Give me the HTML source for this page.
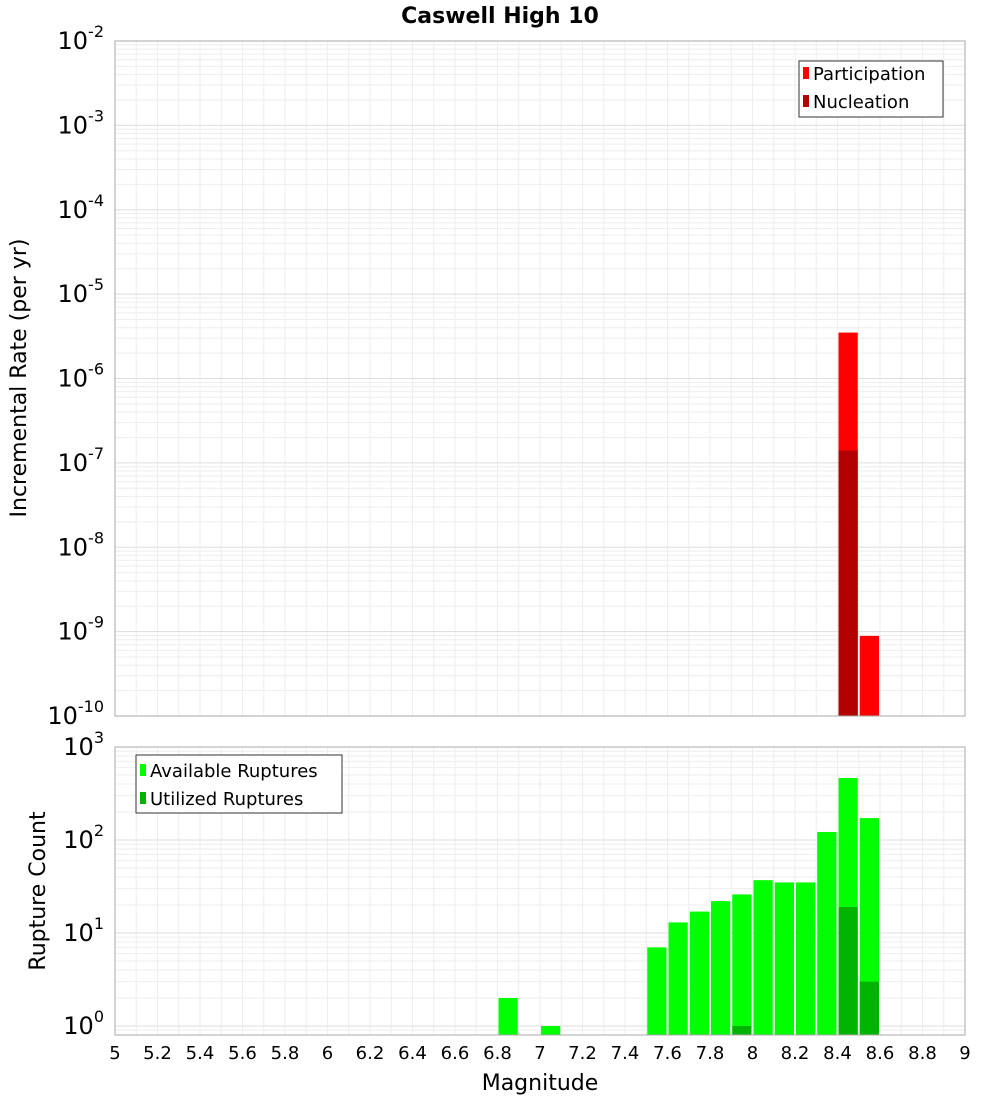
<!DOCTYPE html>
<html><head><meta charset="utf-8"><style>
html,body{margin:0;padding:0;background:#fff}
svg{display:block;font-family:"DejaVu Sans","Liberation Sans",sans-serif}
</style></head><body>
<svg id="chart" width="1000" height="1100" xmlns="http://www.w3.org/2000/svg">
<text x="500" y="23" text-anchor="middle" font-size="22" font-weight="bold">Caswell High 10</text>
<g id="topPlot"></g>
<g id="botPlot"></g>
<text transform="translate(26,378) rotate(-90)" text-anchor="middle" font-size="22">Incremental Rate (per yr)</text>
<text transform="translate(45,891) rotate(-90)" text-anchor="middle" font-size="22">Rupture Count</text>
<text x="540" y="1090" text-anchor="middle" font-size="22">Magnitude</text>
<g id="legends"></g>
</svg>
<script>
const binCenters=[8.45,8.55];
const participation=[3.5e-6,8.9e-10];
const nucleation=[1.4e-7,0];
const countBins=[6.85,7.05,7.55,7.65,7.75,7.85,7.95,8.05,8.15,8.25,8.35,8.45,8.55];
const available=[2,1,7,13,17,22,26,37,35,35,122,464,172];
const utilized=[0,0,0,0,0,0,1,0,0,0,0,19,3];
const xTicks=[5,5.2,5.4,5.6,5.8,6,6.2,6.4,6.6,6.8,7,7.2,7.4,7.6,7.8,8,8.2,8.4,8.6,8.8,9];
const topExps=[-2,-3,-4,-5,-6,-7,-8,-9,-10];
const botExps=[3,2,1,0];

const NS="http://www.w3.org/2000/svg";
const X0=115,X1=965;
const xs=m=>X0+(m-5)/4*(X1-X0);
const T0=41,T1=716;
const yT=v=>T0+(-2-Math.log10(v))/8*(T1-T0);
const B0=747,BD=93,B1=1035;
const yB=v=>B0+(3-Math.log10(v))*BD;
function el(p,t,a){const e=document.createElementNS(NS,t);for(const k in a)e.setAttribute(k,a[k]);p.appendChild(e);return e;}
const gTop=document.getElementById('topPlot'),gBot=document.getElementById('botPlot');

function grid(g,y0,y1,yf,exps){
  for(let i=0;i<=40;i++){const m=5+i*0.1;const l=el(g,'line',{x1:xs(m),x2:xs(m),y1:y0,y2:y1,stroke:'#eee'});
    }
  for(const e of exps){for(let k=1;k<10;k++){const yy=yf(k*Math.pow(10,e));if(yy<y0-0.5||yy>y1+0.5)continue;
    const l=el(g,'line',{x1:X0,x2:X1,y1:yy,y2:yy,stroke:k==1?'#ddd':'#eee'});
    }}
}
el(gTop,'rect',{x:X0,y:T0,width:X1-X0,height:T1-T0,fill:'#fff'});
el(gBot,'rect',{x:X0,y:B0,width:X1-X0,height:B1-B0,fill:'#fff'});
grid(gTop,T0,T1,yT,topExps.concat([-11]));
grid(gBot,B0,B1,yB,botExps.concat([-1]));

function bar(g,c,v,yf,yb,fill,name){if(!(v>0))return;const yy=yf(v);
  const r=el(g,'rect',{x:xs(c-0.05)+1,y:yy,width:xs(c+0.05)-xs(c-0.05)-2,height:yb-yy,fill:fill});
  }
binCenters.forEach((c,i)=>bar(gTop,c,participation[i],yT,T1,'#ff0000','participation-bar'));
binCenters.forEach((c,i)=>bar(gTop,c,nucleation[i],yT,T1,'#b30000','nucleation-bar'));
countBins.forEach((c,i)=>bar(gBot,c,available[i],yB,B1,'#00ff00','available-bar'));
countBins.forEach((c,i)=>bar(gBot,c,utilized[i],yB,B1,'#00b300','utilized-bar'));

el(gTop,'rect',{x:X0,y:T0,width:X1-X0,height:T1-T0,fill:'none',stroke:'#aaa'});
el(gBot,'rect',{x:X0,y:B0,width:X1-X0,height:B1-B0,fill:'none',stroke:'#aaa'});

function ylab(g,e,yy){const t=el(g,'text',{x:104,y:yy+8,'text-anchor':'end','font-size':24});
  
  t.appendChild(document.createTextNode('10'));const s=el(t,'tspan',{dy:-12,'font-size':16});s.textContent=String(e);
  }
topExps.forEach(e=>ylab(gTop,e,yT(Math.pow(10,e))));
botExps.forEach(e=>ylab(gBot,e,Math.min(yB(Math.pow(10,e)),B1-6)));
xTicks.forEach(m=>{const t=el(gBot,'text',{x:xs(m),y:1059,'text-anchor':'middle','font-size':18});
  
  t.textContent=String(Math.round(m*10)/10);});

const lg=document.getElementById('legends');
const l1=el(lg,'g',{});


el(l1,'rect',{x:799,y:61,width:144,height:56,fill:'#fff',stroke:'#333'});
el(l1,'rect',{x:803,y:67,width:6,height:12,fill:'#ff0000'});
el(l1,'text',{x:813,y:80,'font-size':18}).textContent='Participation';
el(l1,'rect',{x:803,y:95,width:6,height:12,fill:'#b30000'});
el(l1,'text',{x:813,y:108,'font-size':18}).textContent='Nucleation';
const l2=el(lg,'g',{});


el(l2,'rect',{x:136,y:755,width:206,height:58,fill:'#fff',stroke:'#333'});
el(l2,'rect',{x:140,y:764,width:6,height:12,fill:'#00ff00'});
el(l2,'text',{x:150,y:777,'font-size':18}).textContent='Available Ruptures';
el(l2,'rect',{x:140,y:792,width:6,height:12,fill:'#00b300'});
el(l2,'text',{x:150,y:805,'font-size':18}).textContent='Utilized Ruptures';
</script>
</body></html>
